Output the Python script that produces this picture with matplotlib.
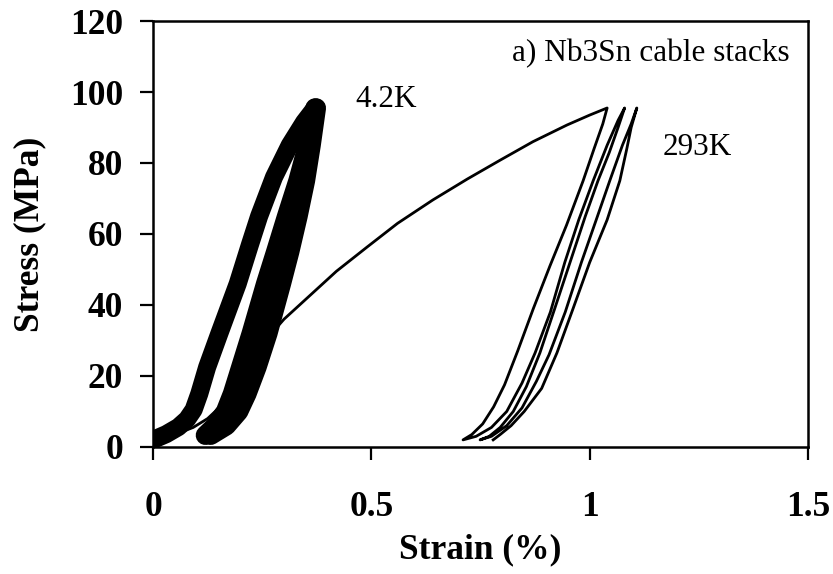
import numpy as np
import matplotlib.pyplot as plt

plt.rcParams['font.family'] = 'Liberation Serif'

# 4.2 K, first loading (left thick band)
strain_42_load = [0.0, 0.03, 0.058, 0.078, 0.093, 0.106, 0.124, 0.152, 0.194, 0.222, 0.243, 0.277, 0.313, 0.346, 0.371]
stress_42_load = [2.0, 3.6, 5.6, 7.8, 10.5, 15.0, 22.5, 32.0, 46.0, 57.0, 65.0, 76.0, 85.0, 91.5, 95.5]

# 4.2 K, repeated unload / reload cycles (right thick band)
stress_42_cyc = [3.3, 6.0, 10.0, 15.0, 22.5, 32.0, 46.0, 55.0, 65.0, 75.0, 85.0, 95.5]
strain_42_unload = [0.120, 0.143, 0.166, 0.182, 0.201, 0.225, 0.258, 0.281, 0.306, 0.332, 0.354, 0.371]
strain_42_reload = [0.132, 0.168, 0.196, 0.215, 0.238, 0.263, 0.294, 0.313, 0.332, 0.349, 0.362, 0.374]

# 293 K, first loading then three unload / reload loops (in recorded order)
strain_293 = [
    0.0, 0.05, 0.092, 0.125, 0.158, 0.19, 0.22, 0.245, 0.268, 0.30, 0.348, 0.42,
    0.49, 0.56, 0.641, 0.72, 0.795, 0.87, 0.948, 1.0, 1.04,
    1.03, 1.01, 0.985, 0.947, 0.909, 0.871, 0.835, 0.805, 0.78, 0.755, 0.73, 0.71,
    0.74, 0.775, 0.81, 0.845, 0.875, 0.91, 0.943, 0.975, 1.008, 1.04, 1.065, 1.08,
    1.065, 1.045, 1.019, 0.99, 0.955, 0.92, 0.886, 0.855, 0.825, 0.795, 0.77, 0.749,
    0.775, 0.81, 0.845, 0.878, 0.907, 0.944, 0.981, 1.015, 1.046, 1.075, 1.095, 1.108,
    1.095, 1.085, 1.069, 1.04, 1.0, 0.962, 0.925, 0.89, 0.85, 0.82, 0.795, 0.779,
]
stress_293 = [
    1.5, 3.5, 5.5, 8.0, 11.8, 17.5, 23.5, 28.0, 31.5, 36.0, 41.4, 49.5,
    56.3, 63.0, 69.6, 75.5, 80.8, 86.0, 90.7, 93.5, 95.5,
    91.0, 84.0, 75.0, 62.5, 51.0, 39.0, 27.0, 17.5, 11.3, 6.5, 3.5, 2.0,
    3.0, 5.5, 10.0, 18.0, 26.5, 38.0, 52.0, 64.0, 75.0, 85.0, 92.0, 95.5,
    90.0, 83.0, 75.0, 65.0, 52.0, 39.0, 26.5, 17.0, 10.0, 5.5, 3.0, 2.0,
    3.0, 6.0, 11.0, 18.5, 26.0, 38.0, 52.0, 64.0, 75.0, 85.0, 91.0, 95.5,
    90.0, 84.0, 75.0, 64.0, 52.0, 39.0, 26.5, 16.5, 10.0, 6.0, 3.5, 2.0,
]

x_ticks = [0, 0.5, 1, 1.5]
x_tick_labels = ['0', '0.5', '1', '1.5']
y_ticks = [0, 20, 40, 60, 80, 100, 120]

fig = plt.figure(figsize=(8.33, 5.74), dpi=100)
ax = fig.add_axes([0.1837, 0.2213, 0.7863, 0.7421])

ax.plot(strain_293, stress_293, color='black', lw=2.0, solid_joinstyle='round', zorder=2)

thick = dict(color='black', solid_capstyle='round', solid_joinstyle='round', zorder=3)
ax.plot(strain_42_load, stress_42_load, lw=13, **thick)
ax.plot(strain_42_unload, stress_42_cyc, lw=14, **thick)
ax.plot(strain_42_reload, stress_42_cyc, lw=14, **thick)

ax.text(0.463, 98, '4.2K', fontsize=22.5, va='center', ha='left')
ax.text(1.166, 84.5, '293K', fontsize=22.5, va='center', ha='left')
ax.text(1.458, 110.7, 'a) Nb3Sn cable stacks', fontsize=22.5, va='center', ha='right')

ax.set_xlim(0, 1.5)
ax.set_ylim(0, 120)
ax.set_xticks(x_ticks)
ax.set_xticklabels(x_tick_labels)
ax.set_yticks(y_ticks)

for s in ax.spines.values():
    s.set_linewidth(1.8)

ax.tick_params(axis='both', direction='out', length=9.4, width=1.6, labelsize=25.5)
ax.tick_params(axis='x', pad=22)
ax.tick_params(axis='y', pad=12)
for lab in ax.get_xticklabels() + ax.get_yticklabels():
    lab.set_fontweight('bold')

ax.set_xlabel('Strain (%)', fontsize=25.5, fontweight='bold', va='center')
ax.set_ylabel('Stress (MPa)', fontsize=25.5, fontweight='bold', va='center')
ax.xaxis.set_label_coords(0.5, -0.242)
ax.yaxis.set_label_coords(-0.188, 0.5)

fig.savefig('out.png', dpi=100)
